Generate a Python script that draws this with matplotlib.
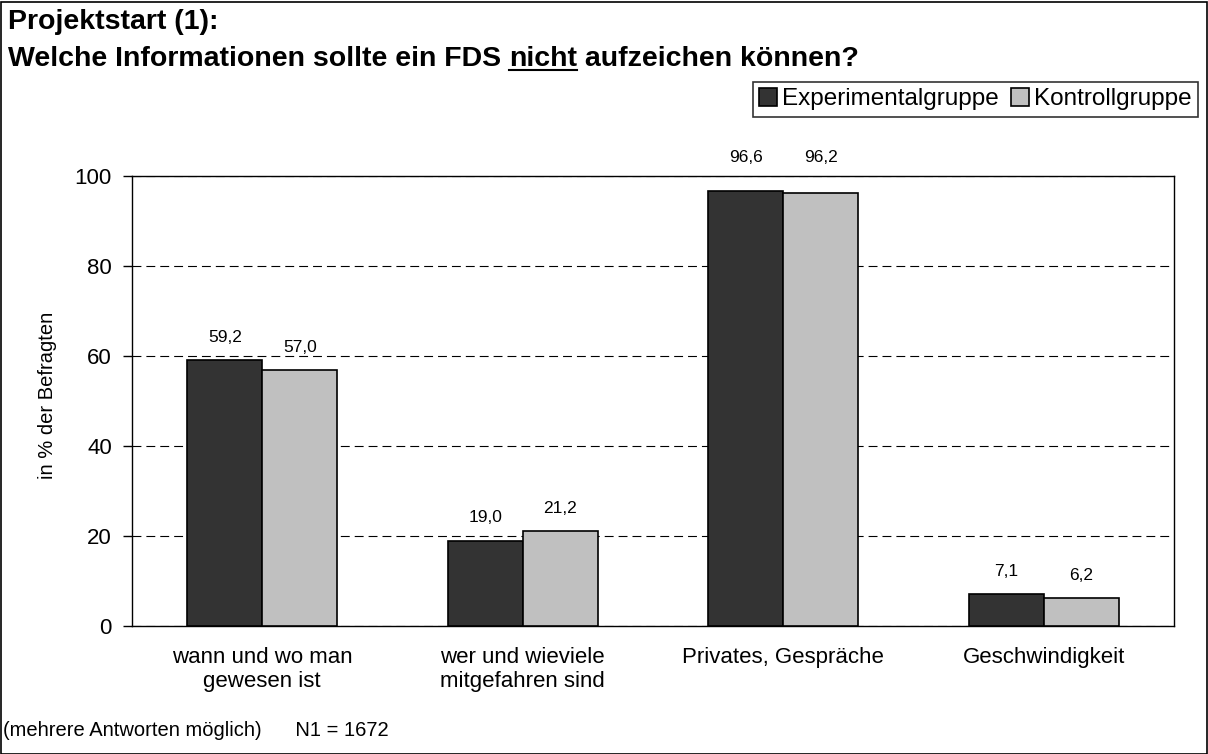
import matplotlib.pyplot as plt
import numpy as np
from matplotlib.patches import Rectangle

plt.rcParams['font.family'] = ['Liberation Sans', 'DejaVu Sans']

# data
categories = ['wann und wo man\ngewesen ist', 'wer und wieviele\nmitgefahren sind',
              'Privates, Gespräche', 'Geschwindigkeit']
experimental = [59.2, 19.0, 96.6, 7.1]
kontroll = [57.0, 21.2, 96.2, 6.2]
series_names = ['Experimentalgruppe', 'Kontrollgruppe']

W, H = 1208, 754
fig = plt.figure(figsize=(W / 100, H / 100), dpi=100)
ax = fig.add_axes([132 / W, 1 - 626 / H, 1042 / W, 450 / H])

x = np.arange(len(categories))
w = 0.288
b1 = ax.bar(x - w / 2, experimental, w, color='#333333', edgecolor='black', linewidth=1.2,
            label=series_names[0], zorder=3)
b2 = ax.bar(x + w / 2, kontroll, w, color='#c0c0c0', edgecolor='black', linewidth=1.2,
            label=series_names[1], zorder=3)

# value labels; those that would hit the top frame go above it
for bars, vals in ((b1, experimental), (b2, kontroll)):
    for r, v in zip(bars, vals):
        y = v + 5 if v + 5 < 98 else 104
        ax.text(r.get_x() + r.get_width() / 2, y, f'{v:.1f}'.replace('.', ','),
                ha='center', va='center', fontsize=12.5, clip_on=False)

ax.set_xlim(-0.5, 3.5)
ax.set_ylim(0, 100)
ax.set_yticks([0, 20, 40, 60, 80, 100])
ax.tick_params(axis='y', labelsize=16, length=6.5, direction='out', pad=8, width=1)
ax.set_xticks(x)
ax.set_xticklabels(categories, fontsize=16, linespacing=1.2)
ax.tick_params(axis='x', length=0, pad=15)
ax.yaxis.grid(True, linestyle=(0, (8, 4.5)), color='black', linewidth=0.8, zorder=0)
for s in ax.spines.values():
    s.set_linewidth(1.0)
ax.set_ylabel('in % der Befragten', fontsize=14.5)
ax.yaxis.set_label_coords((57 - 132) / 1042, (626 - 395) / 450)

leg = ax.legend(loc='upper right', bbox_to_anchor=(1198 / W, 1 - 82 / H),
                bbox_transform=fig.transFigure, ncol=2, fontsize=17.5, frameon=True,
                fancybox=False, edgecolor='black', handlelength=0.75, handleheight=0.75,
                handletextpad=0.2, columnspacing=0.5, borderpad=0.25, borderaxespad=0)
leg.get_frame().set_linewidth(1.2)

# title with underlined "nicht"
tfs = 20.5
fig.text(8 / W, 1 - 29 / H, 'Projektstart (1):', fontsize=tfs, fontweight='bold',
         va='baseline', ha='left')
t = fig.text(8 / W, 1 - 66 / H, 'Welche Informationen sollte ein FDS ', fontsize=tfs,
             fontweight='bold', va='baseline', ha='left')
fig.canvas.draw()
bb = t.get_window_extent()
t2 = fig.text(bb.x1 / W, 1 - 66 / H, 'nicht', fontsize=tfs, fontweight='bold',
              va='baseline', ha='left')
fig.canvas.draw()
bb2 = t2.get_window_extent()
fig.add_artist(plt.Line2D([bb2.x0 / W, bb2.x1 / W], [1 - 70 / H, 1 - 70 / H],
                          color='black', linewidth=1.5, transform=fig.transFigure))
fig.text(bb2.x1 / W, 1 - 66 / H, ' aufzeichen können?', fontsize=tfs, fontweight='bold',
         va='baseline', ha='left')

fig.text(3 / W, 1 - 736 / H, '(mehrere Antworten möglich)      N1 = 1672', fontsize=14.5,
         va='baseline', ha='left')

fig.add_artist(Rectangle((0.5 / W, 0.5 / H), 1206 / W, 752 / H, fill=False,
                         edgecolor='black', linewidth=1.2, transform=fig.transFigure))

fig.savefig('out.png', dpi=100)
